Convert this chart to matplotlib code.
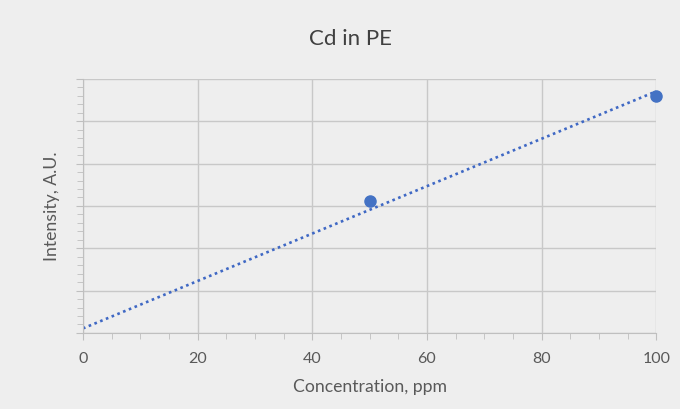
import numpy as np
import matplotlib.pyplot as plt
from matplotlib.ticker import MultipleLocator, NullFormatter

# standards: concentration (ppm) and measured intensity (A.U.)
conc      = [0, 50, 100]
intensity = [0.0, 3.12, 5.60]

plt.rcParams['font.family'] = ['Lato', 'DejaVu Sans']

bg   = '#eeeeee'
grid = '#c8c8c8'
txt  = '#595959'

fig = plt.figure(figsize=(6.8, 4.09), dpi=100, facecolor=bg)
ax  = fig.add_axes([0.122, 0.186, 0.843, 0.621], facecolor=bg)

# linear trendline through all standards
slope, icpt = np.polyfit(conc, intensity, 1)
xl = np.array([0, 100])
ax.plot(xl, slope * xl + icpt, ls=(0, (1, 1.35)), color='#3f68c4', lw=1.9)

# markers (blank at 0 not shown)
ax.plot(conc[1:], intensity[1:], 'o', color='#4472c4', ms=8, zorder=3, clip_on=False)

ax.set_xlim(0, 100)
ax.set_ylim(0, 6)
ax.xaxis.set_major_locator(MultipleLocator(20))
ax.xaxis.set_minor_locator(MultipleLocator(5))
ax.yaxis.set_major_locator(MultipleLocator(1))
ax.yaxis.set_minor_locator(MultipleLocator(0.2))
ax.yaxis.set_major_formatter(NullFormatter())

ax.grid(True, which='major', color=grid, lw=1)
ax.set_axisbelow(True)
for s in ['top', 'right']:
    ax.spines[s].set_visible(False)
for s in ['left', 'bottom']:
    ax.spines[s].set_color('#bfbfbf')
ax.tick_params(which='both', color='#bfbfbf', labelcolor=txt, labelsize=11.5)
ax.tick_params(which='major', length=5)
ax.tick_params(which='minor', length=4)
ax.tick_params(axis='x', pad=9)

fig.text(0.515, 0.905, 'Cd in PE', fontsize=16, color='#404040', ha='center', va='center')
ax.set_xlabel('Concentration, ppm', fontsize=12.7, color=txt, labelpad=9)
ax.set_ylabel('Intensity, A.U.', fontsize=12.7, color=txt, labelpad=8)

fig.savefig('out.png', dpi=100, facecolor=bg)
